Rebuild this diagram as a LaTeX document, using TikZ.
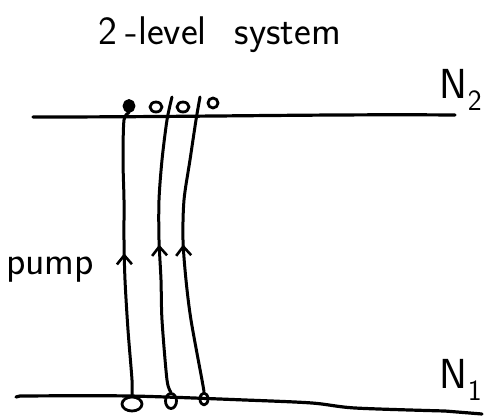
\documentclass[tikz,border=0pt]{standalone}
\usepackage{fontspec}
\usetikzlibrary{shapes.geometric,decorations.markings,arrows.meta}
\begin{document}
\begin{tikzpicture}[x=1pt,y=-1pt,
  ink/.style={line width=3pt,line cap=round,line join=round},
  level/.style={ink,line width=3.2pt},
  atom/.style={draw,ellipse,ink,line width=2.8pt,inner sep=0pt},
  uparrow/.style={ink,decoration={markings,
      mark=at position 0.5 with {\arrow[line width=2.6pt]{Straight Barb[length=9pt,width=15pt]}}},
      postaction={decorate}},
  lbl/.style={font=\sffamily\fontsize{#1}{#1}\selectfont,inner sep=0pt}
]
\useasboundingbox (0,0) rectangle (490,418);

% title
\node[lbl=40] (title) at (220,35) {2\hspace{8pt}-level\hspace{28pt}system};

% energy levels
\coordinate (upL) at (33,117);
\coordinate (upR) at (455,115);
\coordinate (loL) at (16,397);
\coordinate (loR) at (482,414);
\draw[level] (upL) .. controls (200,117) and (320,114) .. (upR);
\draw[level] (loL) -- ++(4,-1)
  plot[smooth] coordinates {(20,396) (130,396) (245,400) (312,403) (355,408) (445,411)}
  -- (loR);

% level labels
\node[lbl=42] (n2) at (461,90) {N$_{\mathsf{2}}$};
\node[lbl=42] (n1) at (461,380) {N$_{\mathsf{1}}$};
\node[lbl=40] (pump) at (50,270) {pump};

% atoms on the upper level
\node[atom,fill=black,minimum width=10pt,minimum height=11pt] (u1) at (129,106) {};
\node[atom,minimum width=12pt,minimum height=10pt] (u2) at (156,107) {};
\node[atom,minimum width=12pt,minimum height=10pt] (u3) at (183,107) {};
\node[atom,minimum width=10pt,minimum height=10pt] (u4) at (213,103) {};

% atoms on the lower level
\node[atom,minimum width=20pt,minimum height=14pt] (b1) at (132,404) {};
\node[atom,minimum width=11pt,minimum height=15pt] (b2) at (171,401) {};
\node[atom,minimum width=8pt,minimum height=12pt] (b3) at (204,399) {};

% pumping transitions (drawn upward)
\coordinate (t2) at (172,97);
\coordinate (t3) at (200,97);
\draw[uparrow] plot[smooth] coordinates
  {(b1.north) (132,380) (128,330) (125,280) (124,240) (124,200) (123,160) (124,120) (u1.south)};
\draw[uparrow] plot[smooth] coordinates
  {(b2.north) (167,380) (162,320) (161,280) (159,240) (159,200) (162,160) (167,120) (t2)};
\draw[uparrow] plot[smooth] coordinates
  {(b3.north) (202,380) (191,320) (186,280) (183,240) (184,200) (190,160) (196,120) (t3)};
\end{tikzpicture}
\end{document}
